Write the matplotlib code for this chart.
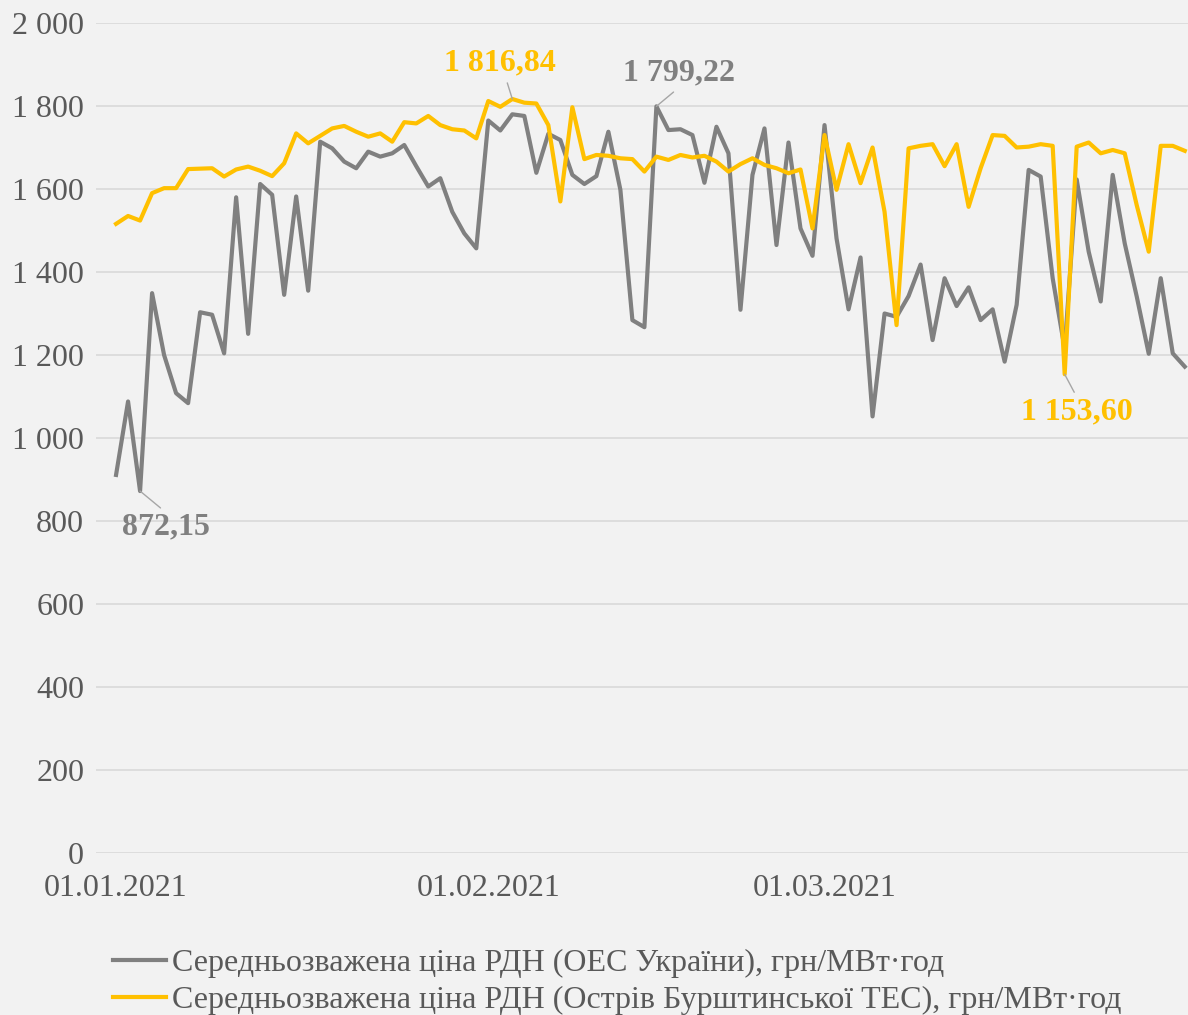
import matplotlib
matplotlib.use('Agg')
import matplotlib.pyplot as plt
import matplotlib.dates as mdates
import pandas as pd

# daily weighted average DAM prices, Jan-Mar 2021
dates = pd.date_range('2021-01-01', '2021-03-31', freq='D')

ues = [911, 1088, 872.15, 1349, 1200, 1108, 1084, 1303, 1297, 1204,
       1580, 1251, 1612, 1586, 1345, 1582, 1355, 1714, 1698, 1666,
       1650, 1690, 1678, 1686, 1706, 1655, 1606, 1626, 1545, 1493,
       1457, 1765, 1741, 1780, 1776, 1639, 1733, 1718, 1634, 1612,
       1631, 1738, 1598, 1284, 1267, 1799.22, 1742, 1744, 1730, 1615,
       1750, 1686, 1309, 1634, 1746, 1465, 1712, 1505, 1439, 1754,
       1481, 1310, 1435, 1052, 1300, 1292, 1342, 1418, 1236, 1385,
       1318, 1363, 1284, 1310, 1184, 1321, 1646, 1630, 1385, 1215,
       1623, 1449, 1329, 1634, 1469, 1341, 1203, 1385, 1204, 1172]

burshtyn = [1516, 1535, 1524, 1590, 1602, 1602, 1648, 1649, 1650, 1630,
            1647, 1654, 1644, 1631, 1662, 1734, 1710, 1728, 1746, 1752,
            1738, 1726, 1734, 1714, 1761, 1758, 1776, 1754, 1744, 1741,
            1722, 1812, 1798, 1816.84, 1808, 1806, 1754, 1570, 1797, 1672,
            1682, 1680, 1674, 1672, 1642, 1678, 1670, 1682, 1676, 1680,
            1666, 1642, 1660, 1674, 1658, 1650, 1638, 1647, 1505, 1730,
            1598, 1708, 1614, 1700, 1545, 1272, 1698, 1704, 1708, 1655,
            1708, 1557, 1650, 1730, 1728, 1700, 1702, 1708, 1704, 1153.6,
            1702, 1712, 1686, 1694, 1686, 1561, 1449, 1704, 1704, 1692]

labels = ['Середньозважена ціна РДН (ОЕС України), грн/МВт·год',
          'Середньозважена ціна РДН (Острів Бурштинської ТЕС), грн/МВт·год']

xtick_dates = ['2021-01-01', '2021-02-01', '2021-03-01']
xtick_labels = ['01.01.2021', '01.02.2021', '01.03.2021']
yticks = [0, 200, 400, 600, 800, 1000, 1200, 1400, 1600, 1800, 2000]

grey = '#808080'
gold = '#FFC000'
txt = '#595959'

plt.rcParams['font.family'] = ['Liberation Serif', 'DejaVu Serif']

fig = plt.figure(figsize=(11.88, 10.15), dpi=100, facecolor='#f2f2f2')
ax = fig.add_axes([96/1188, 1 - 853/1015, 1 - 96/1188, (853 - 23)/1015])
ax.set_facecolor('#f2f2f2')

x = mdates.date2num(dates)
ax.plot(x, ues, color=grey, lw=3, label=labels[0], solid_joinstyle='round', zorder=3)
ax.plot(x, burshtyn, color=gold, lw=3, label=labels[1], solid_joinstyle='round', zorder=4)

ax.set_ylim(0, 2000)
ax.set_xlim(x[0] - 1.67, x[-1] + 0.27)
ax.set_yticks(yticks)
ax.set_yticklabels(['{:,}'.format(v).replace(',', ' ') for v in yticks])
ax.set_xticks(mdates.date2num(pd.to_datetime(xtick_dates)))
ax.set_xticklabels(xtick_labels)
ax.tick_params(axis='both', length=0, labelsize=23, colors=txt)
ax.tick_params(axis='y', pad=8.5)
ax.tick_params(axis='x', pad=15)
ax.grid(axis='y', color='#d9d9d9', lw=1.2)
ax.set_axisbelow(True)
for s in ax.spines.values():
    s.set_visible(False)

# data labels on extremes
def note(i, series, text, col, tx, ty, rel):
    ax.annotate(text, xy=(x[i], series[i]), xytext=(tx, 1015 - ty),
                textcoords='figure pixels', ha='center', va='center',
                fontsize=23, fontweight='bold', color=col, zorder=6,
                arrowprops=dict(arrowstyle='-', color='#a6a6a6', lw=1,
                                shrinkA=2, shrinkB=0, relpos=rel))

note(2, ues, '872,15', grey, 166, 527, (0.5, 1))
note(33, burshtyn, '1 816,84', gold, 500, 63, (0.55, 0))
note(45, ues, '1 799,22', grey, 679, 73, (0.5, 0))
note(79, burshtyn, '1 153,60', gold, 1077, 412, (0.5, 1))

fig.legend(loc='upper left', bbox_to_anchor=(113/1188, 1 - 949/1015),
           frameon=False, fontsize=23, labelcolor=txt, handlelength=1.65,
           handletextpad=0.2, labelspacing=0.22, borderpad=0, borderaxespad=0)

plt.savefig('out.png', dpi=100, facecolor=fig.get_facecolor())
